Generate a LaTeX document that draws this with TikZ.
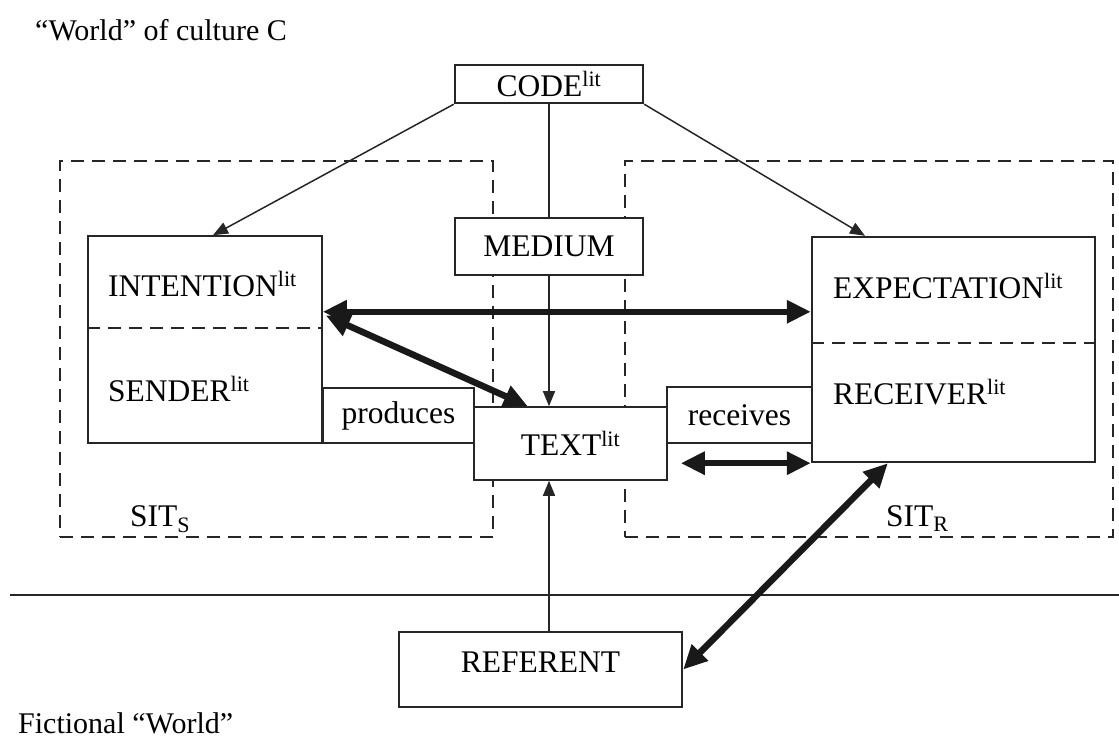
\documentclass[tikz,border=0pt]{standalone}
\usepackage{fontspec}
\setmainfont{Liberation Serif}
\usetikzlibrary{arrows.meta,calc}
\begin{document}
\begin{tikzpicture}[x=1pt,y=-1pt,
  box/.style={draw=black!85, line width=1.6pt, fill=white, inner sep=0pt, font=\fontsize{31.5}{36}\selectfont},
  boldbox/.style={box, line width=2.4pt},
  lbl/.style={font=\fontsize{31.5}{36}\selectfont, inner sep=0pt, anchor=base west},
  caption/.style={font=\fontsize{30}{36}\selectfont, inner sep=0pt, anchor=base west},
  sit/.style={draw=black!85, line width=2pt, dash pattern=on 13pt off 8pt, inner sep=0pt},
  divider/.style={draw=black!85, line width=2pt, dash pattern=on 13pt off 8pt},
  plain/.style={draw=black!85, line width=1.5pt},
  thinarrow/.style={plain, -{Triangle[length=15pt,width=12pt]}},
  heavy/.style={draw=black!90, line width=6.5pt, {Triangle[length=24pt,width=22pt]}-{Triangle[length=24pt,width=22pt]}},
]
\useasboundingbox (0,0) rectangle (1119,742);

% situation frames
\node[sit, minimum width=433pt, minimum height=376pt] (sitS) at (276.5,349) {};
\node[sit, minimum width=488pt, minimum height=376pt] (sitR) at (869,349) {};

% world divider line
\coordinate (wl) at (10,595);
\coordinate (wr) at (1119,595);
\draw[plain, line width=2pt] (wl) -- (wr);

% boxes
\node[boldbox, minimum width=188pt, minimum height=38pt] (code) at (549,84) {CODE\textsuperscript{lit}};
\node[box, minimum width=188pt, minimum height=57pt] (medium) at (549,246.5) {MEDIUM};
\node[box, minimum width=234pt, minimum height=207pt] (sbox) at (205,339.5) {};
\node[box, minimum width=151pt, minimum height=55pt] (produces) at (398.5,415.5) {produces};
\node[box, minimum width=193pt, minimum height=73pt] (text) at (570.5,443.5) {TEXT\textsuperscript{lit}};
\node[box, minimum width=145pt, minimum height=56pt] (receives) at (739.5,415) {receives};
\node[boldbox, minimum width=283pt, minimum height=225pt] (rbox) at (953.5,349.5) {};
\node[boldbox, minimum width=283pt, minimum height=75pt, text depth=14pt] (referent) at (540.5,669.5) {REFERENT};

% dividers in split boxes
\draw[divider] ($(sbox.north west)!0.444!(sbox.south west)$) -- ($(sbox.north east)!0.444!(sbox.south east)$);
\draw[divider] ($(rbox.north west)!0.471!(rbox.south west)$) -- ($(rbox.north east)!0.471!(rbox.south east)$);

% texts
\node[caption] (title) at (35,40) {“World” of culture C};
\node[caption] (fict) at (18,733) {Fictional “World”};
\node[lbl] (intention) at (108,296) {INTENTION\textsuperscript{lit}};
\node[lbl] (sender) at (108,401) {SENDER\textsuperscript{lit}};
\node[lbl] (expectation) at (833,298) {EXPECTATION\textsuperscript{lit}};
\node[lbl] (receiver) at (833,404) {RECEIVER\textsuperscript{lit}};
\node[lbl] (sits) at (130,526) {SIT\textsubscript{S}};
\node[lbl] (sitr) at (886,526) {SIT\textsubscript{R}};

% thin connectors
\draw[thinarrow] (code.south west) -- ($(sbox.north west)!0.534!(sbox.north east)$);
\draw[plain] (code.south) -- (medium.north);
\draw[thinarrow] (code.south east) -- ($(rbox.north west)!0.19!(rbox.north east)$);
\draw[thinarrow] (medium.south) -- (medium.south |- text.north);
\draw[thinarrow] (referent.north -| medium.south) -- (text.south -| medium.south);

% heavy connectors
\coordinate (intpt) at ($(sbox.north east)!0.367!(sbox.south east)$);
\draw[heavy] (intpt) -- (intpt -| rbox.west);
\draw[heavy] ($(sbox.north east)!0.385!(sbox.south east)+(3,0)$) -- ($(text.north west)!0.28!(text.north east)$);
\draw[heavy] ($(text.east |- rbox.south)+(13,0)$) -- (rbox.south west);
\draw[heavy] (referent.east) -- ($(rbox.south west)!0.27!(rbox.south east)$);
\end{tikzpicture}
\end{document}
